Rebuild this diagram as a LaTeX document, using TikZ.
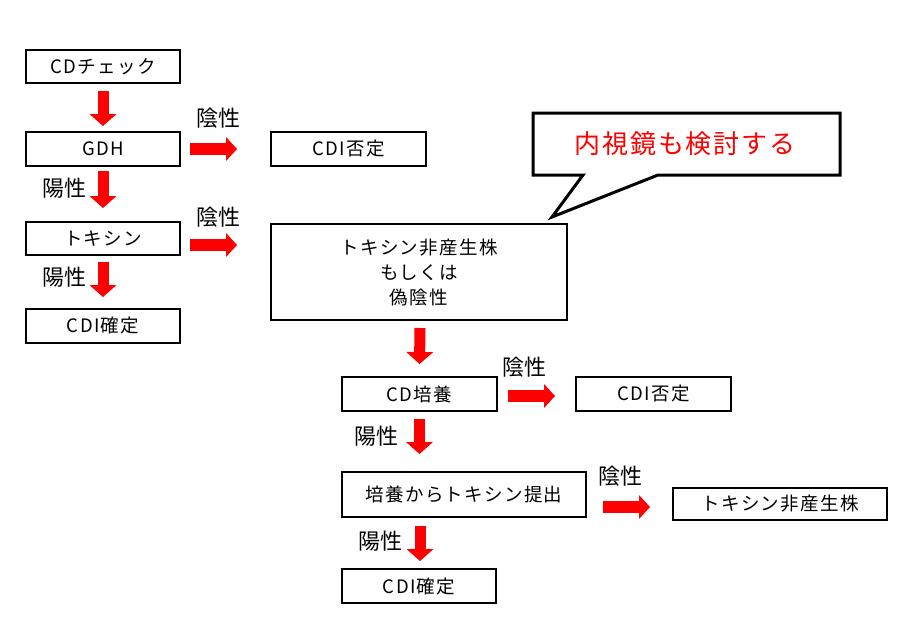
\documentclass[tikz,border=0pt]{standalone}
\usepackage{fontspec}
\setmainfont{Noto Sans CJK JP}
\newfontfamily\spjp[LetterSpace=7]{Noto Sans CJK JP}
\usetikzlibrary{arrows.meta,calc}
\tikzset{
  box/.style={draw=black, line width=2pt, fill=white, inner sep=0pt, align=center,
    font=\spjp\fontsize{18.5}{25}\selectfont},
  lbl/.style={inner sep=0pt, font=\fontsize{22}{24}\selectfont},
  downarrow/.style={draw=red, line width=11pt, -{Triangle[width=27pt,length=12pt,line width=0pt]}},
  rightarrow/.style={draw=red, line width=12pt, -{Triangle[width=24pt,length=11pt,line width=0pt]}},
  callout/.style={draw=black, line width=3pt, fill=white, line join=miter}
}
\begin{document}
\begin{tikzpicture}[x=1pt,y=-1pt]
\useasboundingbox (0,0) rectangle (917,640);
% boxes
\node[box, minimum width=154pt, minimum height=33pt] (n1) at (103,66.5) {CDチェック};
\node[box, minimum width=154pt, minimum height=34pt] (n2) at (103,149) {GDH};
\node[box, minimum width=154pt, minimum height=33pt] (n3) at (103,238.5) {トキシン};
\node[box, minimum width=154pt, minimum height=34pt] (n4) at (103,326) {CDI確定};
\node[box, minimum width=155pt, minimum height=34pt] (n5) at (348.5,149) {CDI否定};
\node[box, minimum width=296pt, minimum height=96pt] (n6) at (419,272) {トキシン非産生株\\もしくは\\偽陰性};
\node[box, minimum width=155pt, minimum height=34pt] (n7) at (419.5,394) {CD培養};
\node[box, minimum width=155pt, minimum height=34pt] (n8) at (653.5,394) {CDI否定};
\node[box, minimum width=244pt, minimum height=45pt] (n9) at (464,494.5) {培養からトキシン提出};
\node[box, minimum width=214pt, minimum height=32pt] (n10) at (780,504) {トキシン非産生株};
\node[box, minimum width=154pt, minimum height=34pt] (n11) at (419,586) {CDI確定};
% down arrows
\draw[downarrow] ($(n1.south)+(0,7)$) -- ($(n2.north)+(0,-5)$);
\draw[downarrow] ($(n2.south)+(0,4)$) -- ($(n3.north)+(0,-13)$);
\draw[downarrow] ($(n3.south)+(0,6)$) -- ($(n4.north)+(0,-11)$);
\draw[downarrow] ($(n6.south)+(1,7)$) -- ($(n7.north)+(0,-12)$);
\draw[downarrow] ($(n7.south)+(0,7)$) -- ($(n7.south |- n9.north)+(0,-17)$);
\draw[downarrow] ($(n11.north |- n9.south)+(1,8)$) -- ($(n11.north)+(1,-7)$);
% right arrows
\draw[rightarrow] ($(n2.east)+(9,0)$) -- ($(n5.west)+(-33,0)$);
\draw[rightarrow] ($(n3.east |- 0,245)+(9,0)$) -- ($(n6.west |- 0,245)+(-33,0)$);
\draw[rightarrow] ($(n7.east)+(10,2)$) -- ($(n8.west)+(-20,2)$);
\draw[rightarrow] ($(n9.east |- 0,507)+(16,0)$) -- ($(n10.west |- 0,507)+(-22,0)$);
% labels
\node[lbl] (l1) at (218,118) {陰性};
\node[lbl] (l2) at (218,217) {陰性};
\node[lbl] (l3) at (524,367) {陰性};
\node[lbl] (l4) at (620,476) {陰性};
\node[lbl] (l5) at (64,188) {陽性};
\node[lbl] (l6) at (64,277) {陽性};
\node[lbl] (l7) at (376,436) {陽性};
\node[lbl] (l8) at (380,541) {陽性};
% callout
\coordinate (tip) at (552,217);
\draw[callout] (533,113) -- (840,113) -- (840,175) -- (658,175) -- (tip) -- (583,175) -- (533,175) -- cycle;
\node[inner sep=0pt, text=red, font=\spjp\fontsize{26}{28}\selectfont] (c) at (685,144) {内視鏡も検討する};
\end{tikzpicture}
\end{document}
